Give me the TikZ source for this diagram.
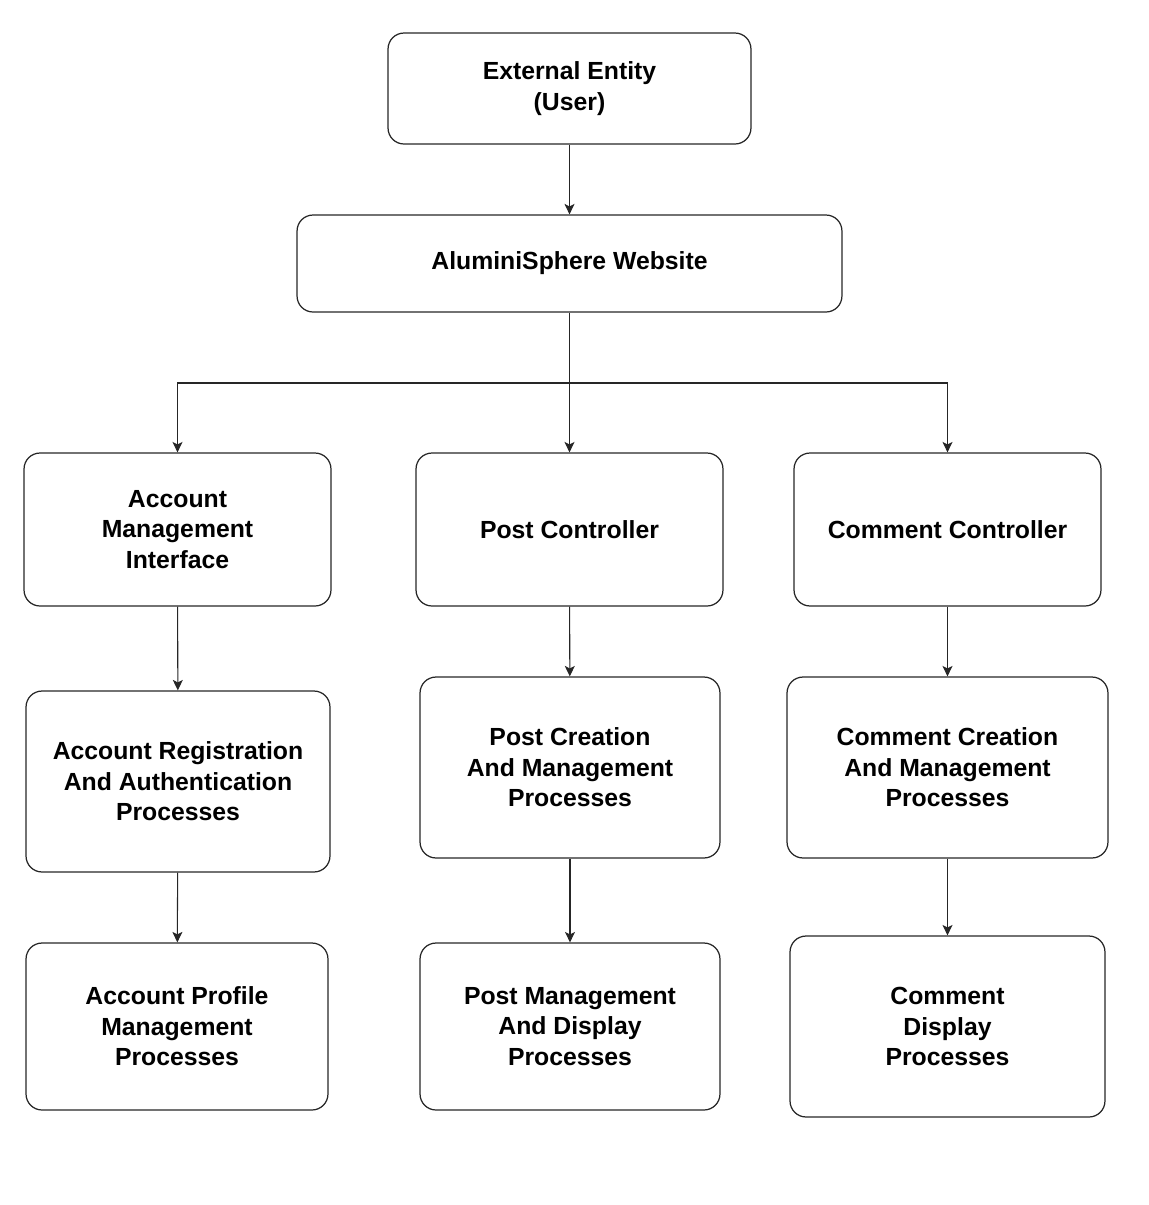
\documentclass[tikz,border=0pt]{standalone}
\usepackage{fontspec}
\setmainfont{Liberation Sans}
\usepackage{tikz}
\usetikzlibrary{arrows.meta,positioning}

\begin{document}
\begin{tikzpicture}[
x=0.02cm,y=-0.02cm,
font=\fontsize{14.1}{17.3}\selectfont\bfseries,
box/.style={draw=black!85,line width=0.7pt,rounded corners=0.32cm,align=center,inner sep=0pt},
arrow/.style={-{Stealth[length=2.1mm,width=2.0mm,inset=0.5mm]},line width=0.6pt,draw=black!85},
]
\useasboundingbox (0,0) rectangle (1149,1205);
% top
\node[box,minimum width=7.26cm,minimum height=2.22cm] (user) at (569.5,88.5) {External Entity\\(User)};
\node[box,minimum width=10.9cm,minimum height=1.94cm] (site) at (569.5,263.5) {AluminiSphere Website};
% controllers
\node[box,minimum width=6.14cm,minimum height=3.06cm] (acct) at (177.5,529.5) {Account\\Management\\Interface};
\node[box,minimum width=6.14cm,minimum height=3.06cm] (postctl) at (569.5,529.5) {Post Controller};
\node[box,minimum width=6.14cm,minimum height=3.06cm] (cmtctl) at (947.5,529.5) {Comment Controller};
% processes
\node[box,minimum width=6.08cm,minimum height=3.62cm] (reg) at (178,781.5) {Account Registration\\And Authentication\\Processes};
\node[box,minimum width=6.0cm,minimum height=3.62cm] (postnew) at (570,767.5) {Post Creation\\And Management\\Processes};
\node[box,minimum width=6.42cm,minimum height=3.62cm] (cmtnew) at (947.5,767.5) {Comment Creation\\And Management\\Processes};
\node[box,minimum width=6.04cm,minimum height=3.34cm] (profile) at (177,1026.5) {Account Profile\\Management\\Processes};
\node[box,minimum width=6.0cm,minimum height=3.34cm] (postshow) at (570,1026.5) {Post Management\\And Display\\Processes};
\node[box,minimum width=6.3cm,minimum height=3.62cm] (cmtshow) at (947.5,1026.5) {Comment\\Display\\Processes};
\coordinate (split) at (569.5,383);
% connectors
\draw[arrow] (user) -- (site);
\draw[arrow] (site) -- (postctl);
\draw[arrow] (split) -| (acct);
\draw[arrow] (split) -| (cmtctl);
\draw[arrow] (acct) -- (reg);
\draw[arrow] (postctl) -- (postnew);
\draw[arrow] (cmtctl) -- (cmtnew);
\draw[arrow] (reg) -- (profile);
\draw[arrow] (postnew) -- (postshow);
\draw[arrow] (cmtnew) -- (cmtshow);
\end{tikzpicture}
\end{document}
